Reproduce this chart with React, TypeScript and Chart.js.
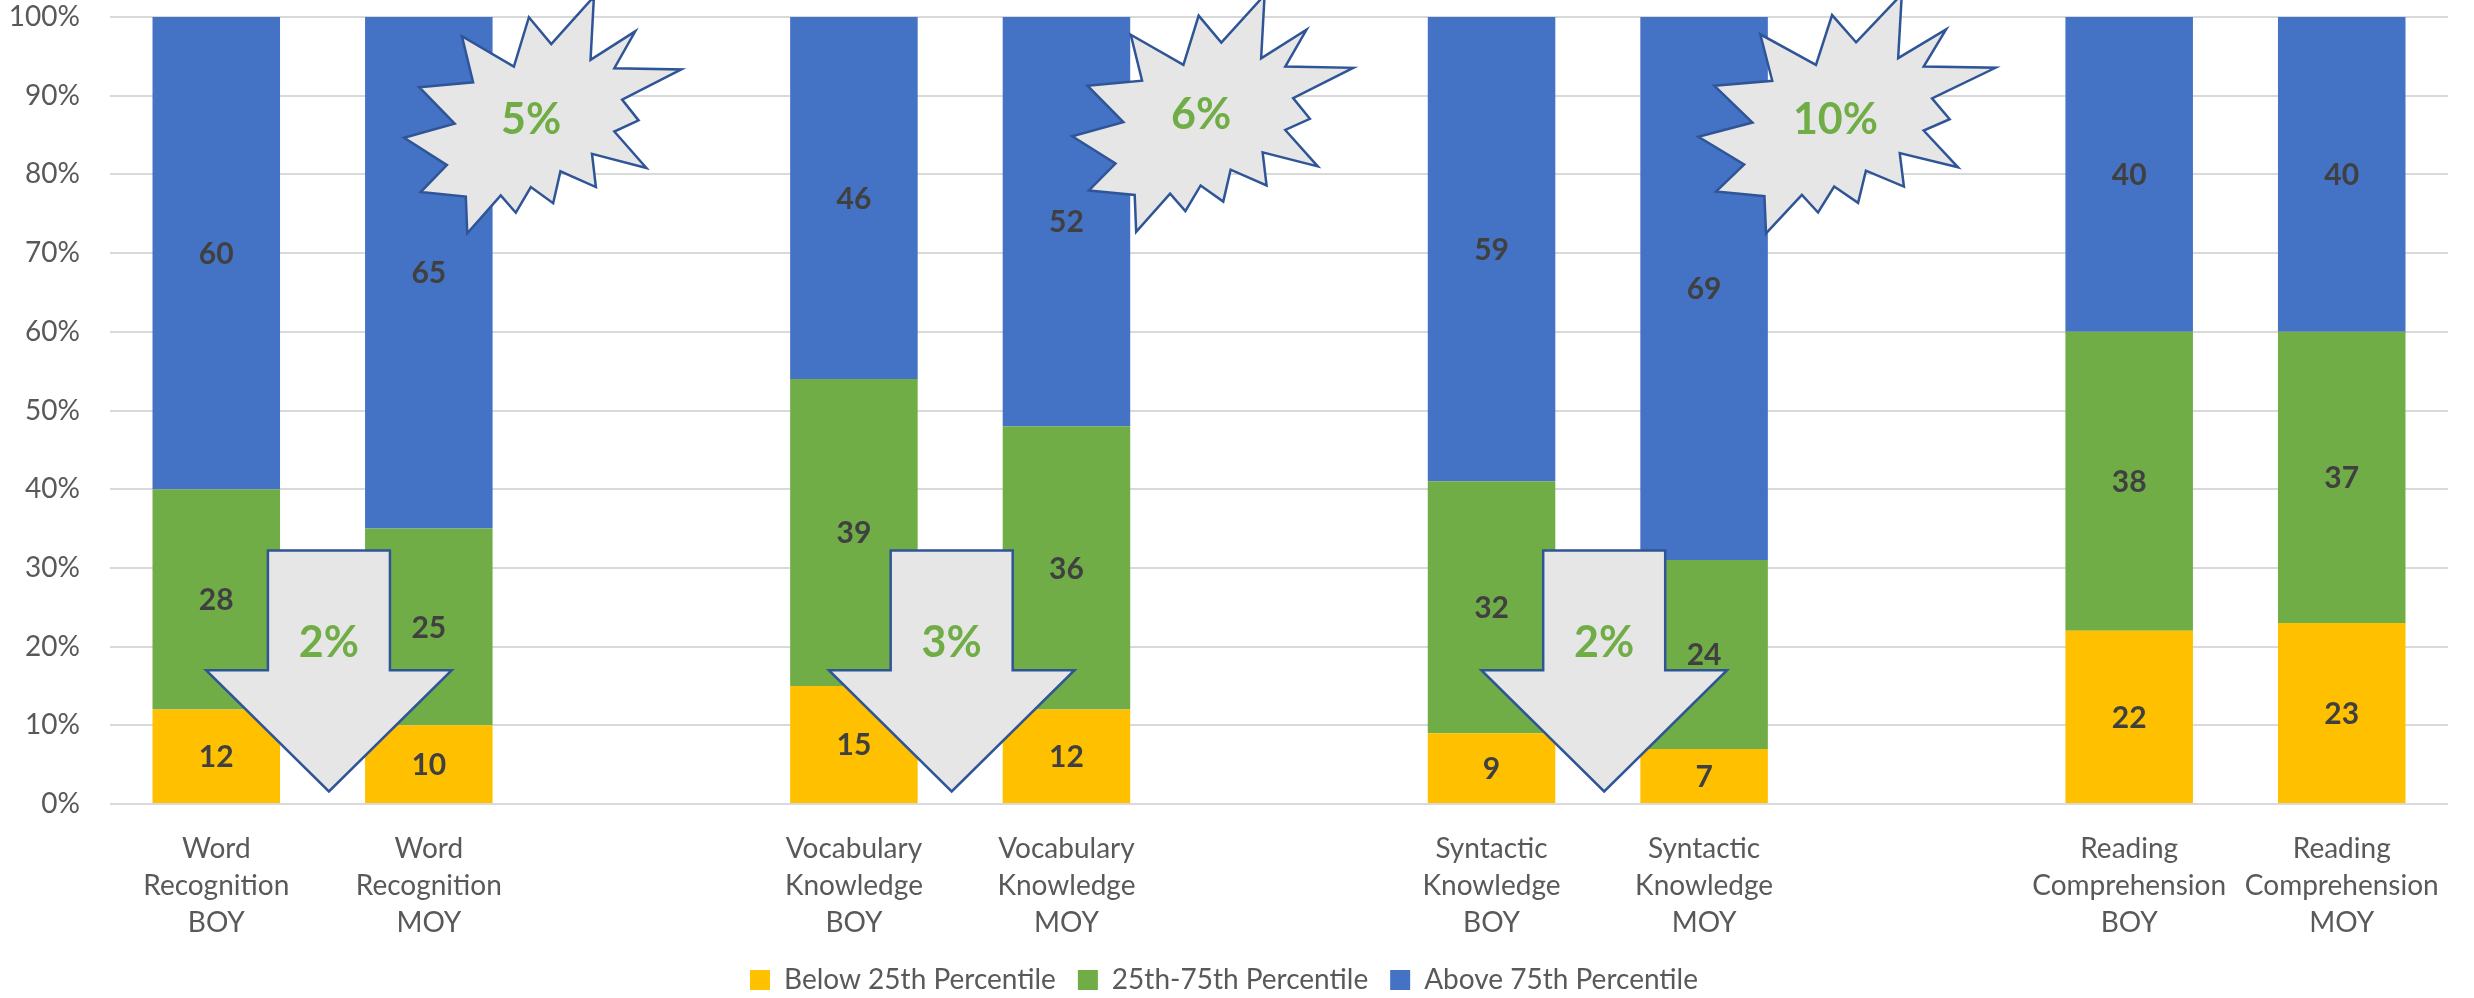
import React, { useEffect, useRef } from "react";
import { Chart, registerables } from "chart.js";

Chart.register(...registerables);

const FONT = "Lato, 'Liberation Sans', sans-serif";

// ---- data ----
const categories: string[][] = [
  ["Word", "Recognition", "BOY"],
  ["Word", "Recognition", "MOY"],
  [""],
  ["Vocabulary", "Knowledge", "BOY"],
  ["Vocabulary", "Knowledge", "MOY"],
  [""],
  ["Syntactic", "Knowledge", "BOY"],
  ["Syntactic", "Knowledge", "MOY"],
  [""],
  ["Reading", "Comprehension", "BOY"],
  ["Reading", "Comprehension", "MOY"],
];
const belowValues = [12, 10, null, 15, 12, null, 9, 7, null, 22, 23];
const middleValues = [28, 25, null, 39, 36, null, 32, 24, null, 38, 37];
const aboveValues = [60, 65, null, 46, 52, null, 59, 69, null, 40, 40];
const seriesNames = ["Below 25th Percentile", "25th-75th Percentile", "Above 75th Percentile"];
const seriesColors = ["#FFC000", "#70AD47", "#4472C4"];

// ---- callouts (positions in category-index / percent units) ----
const arrowLabels = ["2%", "3%", "2%"];
const arrowCenters = [0.53, 3.46, 6.53];
const ARROW = { shaftTop: 32.2, headTop: 17.0, tip: 1.6, shaftHalf: 0.287, headHalf: 0.578, textY: 20.5 };

const burstLabels = ["5%", "6%", "10%"];
const burstBoxes = [
  { left: 0.884, width: 1.304, top: 102.6, height: 30.1, textX: 1.481, textY: 86.9 },
  { left: 4.027, width: 1.322, top: 102.8, height: 30.1, textX: 4.634, textY: 87.5 },
  { left: 6.973, width: 1.398, top: 102.9, height: 30.4, textX: 7.618, textY: 86.9 },
];
// Excel "Explosion 2" preset outline on a 21600 grid
const SEAL2 = [
  [11462, 4342], [14790, 0], [14525, 5777], [18007, 3172], [16380, 6532], [21600, 6645],
  [16985, 9402], [18270, 11290], [16380, 12310], [18877, 15632], [14640, 14350], [14942, 17370],
  [12180, 15935], [11612, 18842], [9872, 17370], [8700, 19712], [7527, 18125], [4917, 21600],
  [4805, 18240], [1285, 17825], [3330, 15370], [0, 12877], [3935, 11592], [1172, 8270],
  [5372, 7817], [4502, 3625], [8550, 6382], [9722, 1887],
];

const valueLabelPlugin = {
  id: "valueLabels",
  afterDatasetsDraw(chart: any) {
    const ctx = chart.ctx;
    ctx.save();
    ctx.font = `bold 30px ${FONT}`;
    ctx.fillStyle = "#404040";
    ctx.textAlign = "center";
    ctx.textBaseline = "middle";
    chart.data.datasets.forEach((ds: any, di: number) => {
      const meta = chart.getDatasetMeta(di);
      meta.data.forEach((el: any, i: number) => {
        const v = ds.data[i];
        if (v == null) return;
        const p = el.getProps(["x", "y", "base"], true);
        ctx.fillText(String(v), p.x, (p.y + p.base) / 2 + 1);
      });
    });
    ctx.restore();
  },
};

const calloutPlugin = {
  id: "callouts",
  afterDraw(chart: any) {
    const { ctx } = chart;
    const x = chart.scales.x;
    const y = chart.scales.y;
    const catW = x.getPixelForValue(1) - x.getPixelForValue(0);
    ctx.save();
    ctx.lineJoin = "miter";
    ctx.lineWidth = 2.5;
    ctx.strokeStyle = "#2F5597";

    arrowCenters.forEach((c, i) => {
      const cx = x.getPixelForValue(c);
      const ys = y.getPixelForValue(ARROW.shaftTop);
      const yh = y.getPixelForValue(ARROW.headTop);
      const yt = y.getPixelForValue(ARROW.tip);
      const sw = ARROW.shaftHalf * catW;
      const hw = ARROW.headHalf * catW;
      ctx.beginPath();
      ctx.moveTo(cx - sw, ys);
      ctx.lineTo(cx + sw, ys);
      ctx.lineTo(cx + sw, yh);
      ctx.lineTo(cx + hw, yh);
      ctx.lineTo(cx, yt);
      ctx.lineTo(cx - hw, yh);
      ctx.lineTo(cx - sw, yh);
      ctx.closePath();
      ctx.fillStyle = "#E7E6E6";
      ctx.fill();
      ctx.stroke();
      ctx.fillStyle = "#70AD47";
      ctx.font = `bold 43px ${FONT}`;
      ctx.textAlign = "center";
      ctx.textBaseline = "middle";
      ctx.fillText(arrowLabels[i], cx, y.getPixelForValue(ARROW.textY));
    });

    burstBoxes.forEach((b, i) => {
      const L = x.getPixelForValue(b.left);
      const W = b.width * catW;
      const T = y.getPixelForValue(b.top);
      const H = y.getPixelForValue(b.top - b.height) - T;
      ctx.beginPath();
      SEAL2.forEach(([px, py], k) => {
        const X = L + (px / 21600) * W;
        const Y = T + (py / 21600) * H;
        if (k === 0) ctx.moveTo(X, Y);
        else ctx.lineTo(X, Y);
      });
      ctx.closePath();
      ctx.fillStyle = "#E7E6E6";
      ctx.fill();
      ctx.stroke();
      ctx.fillStyle = "#70AD47";
      ctx.font = `bold 43px ${FONT}`;
      ctx.textAlign = "center";
      ctx.textBaseline = "middle";
      ctx.fillText(burstLabels[i], x.getPixelForValue(b.textX), y.getPixelForValue(b.textY));
    });
    ctx.restore();
  },
};

export default function App() {
  const ref = useRef<HTMLCanvasElement | null>(null);
  useEffect(() => {
    document.body.style.margin = "0";
    const canvas = ref.current;
    if (!canvas) return;
    const seriesData = [belowValues, middleValues, aboveValues];
    const chart = new Chart(canvas, {
      type: "bar",
      data: {
        labels: categories,
        datasets: seriesNames.map((name, i) => ({
          label: name,
          data: seriesData[i],
          backgroundColor: seriesColors[i],
          borderWidth: 0,
          barPercentage: 0.6,
          categoryPercentage: 1,
        })),
      },
      options: {
        responsive: false,
        animation: false,
        devicePixelRatio: 1,
        layout: { padding: { left: 0, right: 26, top: 17, bottom: -6 } },
        plugins: {
          tooltip: { enabled: false },
          legend: {
            position: "bottom",
            labels: {
              boxWidth: 20,
              boxHeight: 20,
              padding: 22,
              color: "#595959",
              font: { family: FONT, size: 28 },
            },
          },
        },
        scales: {
          x: {
            stacked: true,
            grid: { display: false },
            border: { display: false },
            ticks: {
              autoSkip: false,
              maxRotation: 0,
              minRotation: 0,
              padding: 18,
              color: "#595959",
              font: { family: FONT, size: 28, lineHeight: 1.33 },
            },
            afterFit: (s: any) => {
              s.height = 140;
            },
          },
          y: {
            stacked: true,
            min: 0,
            max: 100,
            grid: { color: "#D9D9D9", lineWidth: 2, drawTicks: false },
            border: { display: false },
            ticks: {
              stepSize: 10,
              padding: 30,
              color: "#595959",
              font: { family: FONT, size: 28, lineHeight: 1 },
              callback: (v: any) => `${v}%`,
            },
            afterFit: (s: any) => {
              s.width = 110;
              s.paddingTop = 0;
              s.paddingBottom = 0;
            },
          },
        },
      },
      plugins: [valueLabelPlugin, calloutPlugin],
    });
    return () => chart.destroy();
  }, []);
  return <canvas ref={ref} width={2474} height={998} style={{ display: "block" }} />;
}
